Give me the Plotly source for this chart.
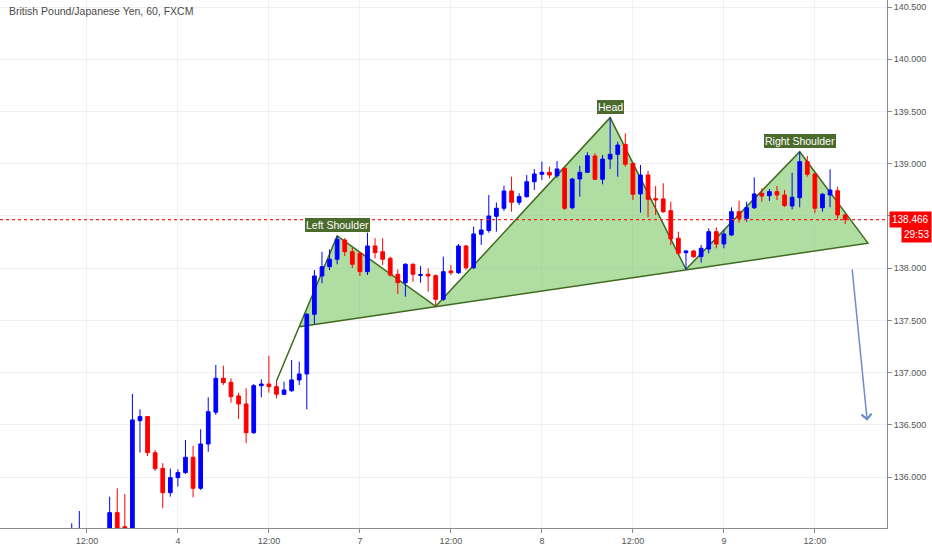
import plotly.graph_objects as go

# ---- hourly candles (index = hours from 12:00 on day 3, weekend skipped) ----
idx = [-2, -1, 3, 4, 5, 6, 7, 8, 9, 10, 11, 12, 13, 14, 15, 16, 17, 18, 19, 20,
       21, 22, 23, 24, 25, 26, 27, 28, 29, 30, 31, 32, 33, 34, 35, 36, 37, 38, 39, 40,
       41, 42, 43, 44, 45, 46, 47, 48, 49, 50, 51, 52, 53, 54, 55, 56, 57, 58, 59, 60,
       61, 62, 63, 64, 65, 66, 67, 68, 69, 70, 71, 72, 73, 74, 75, 76, 77, 78, 79, 80,
       81, 82, 83, 84, 85, 86, 87, 88, 89, 90, 91, 92, 93, 94, 95, 96, 97, 98, 99, 100]

opens = [135.400, 135.420, 135.450, 135.661, 135.527, 135.450, 136.541, 136.580, 136.235, 136.085,
         135.852, 135.996, 136.044, 136.191, 135.894, 136.318, 136.622, 136.947, 136.909, 136.778,
         136.701, 136.426, 136.876, 136.892, 136.867, 136.794, 136.828, 136.931, 136.988, 137.559,
         137.926, 138.015, 138.086, 138.270, 138.158, 138.143, 137.967, 138.213, 138.158, 138.095,
         137.942, 137.862, 138.038, 137.931, 137.942, 137.929, 137.703, 137.974, 137.957, 138.213,
         138.005, 138.325, 138.361, 138.497, 138.574, 138.739, 138.631, 138.685, 138.828, 138.899,
         138.918, 138.886, 138.956, 138.579, 138.854, 138.918, 139.074, 138.851, 139.045, 139.090,
         139.186, 139.004, 138.711, 138.892, 138.666, 138.663, 138.551, 138.287, 138.149, 138.165,
         138.111, 138.184, 138.350, 138.232, 138.318, 138.541, 138.478, 138.579, 138.717, 138.694,
         138.733, 138.701, 138.596, 138.675, 139.020, 138.902, 138.579, 138.701, 138.742, 138.510]

highs = [135.559, 135.677, 135.814, 135.894, 135.840, 136.797, 136.650, 136.585, 136.261, 136.134,
         136.082, 136.076, 136.356, 136.299, 136.459, 136.765, 137.074, 137.067, 136.947, 136.809,
         136.851, 136.892, 136.937, 137.163, 136.921, 136.914, 137.122, 137.106, 137.572, 137.983,
         138.158, 138.181, 138.309, 138.289, 138.194, 138.155, 138.340, 138.287, 138.287, 138.111,
         137.990, 138.047, 138.047, 138.022, 137.999, 137.942, 138.111, 138.031, 138.232, 138.222,
         138.398, 138.462, 138.701, 138.629, 138.790, 138.876, 138.717, 138.892, 138.950, 139.020,
         138.972, 139.026, 138.969, 138.864, 138.981, 139.110, 139.100, 139.084, 139.441, 139.211,
         139.291, 139.007, 138.988, 138.933, 138.787, 138.813, 138.637, 138.350, 138.174, 138.174,
         138.223, 138.382, 138.392, 138.366, 138.583, 138.646, 138.637, 138.870, 138.765, 138.758,
         138.787, 138.749, 138.914, 139.115, 139.074, 138.911, 138.720, 138.947, 138.780, 138.520]

lows = [135.380, 135.400, 135.420, 135.400, 135.400, 135.420, 136.235, 136.203, 136.060, 135.703,
        135.814, 135.910, 136.031, 135.808, 135.878, 136.244, 136.596, 136.883, 136.713, 136.557,
        136.325, 136.414, 136.765, 136.809, 136.755, 136.787, 136.816, 136.883, 136.650, 137.466,
        137.856, 137.983, 138.038, 138.117, 138.002, 137.926, 137.935, 138.095, 138.031, 137.919,
        137.754, 137.728, 137.871, 137.862, 137.776, 137.640, 137.687, 137.935, 137.945, 137.983,
        137.993, 138.223, 138.340, 138.350, 138.548, 138.541, 138.605, 138.675, 138.749, 138.845,
        138.861, 138.864, 138.557, 138.564, 138.685, 138.911, 138.845, 138.803, 138.950, 138.876,
        138.972, 138.653, 138.532, 138.488, 138.510, 138.529, 138.223, 138.127, 137.990, 138.098,
        138.053, 138.143, 138.191, 138.191, 138.309, 138.436, 138.445, 138.567, 138.637, 138.644,
        138.653, 138.586, 138.564, 138.583, 138.876, 138.526, 138.541, 138.583, 138.468, 138.423]

closes = [135.500, 135.500, 135.661, 135.450, 135.450, 136.548, 136.580, 136.235, 136.082, 135.852,
          135.996, 136.044, 136.191, 135.894, 136.318, 136.627, 136.947, 136.905, 136.771, 136.701,
          136.426, 136.876, 136.892, 136.867, 136.794, 136.835, 136.931, 136.988, 137.559, 137.926,
          138.015, 138.086, 138.277, 138.158, 138.038, 137.967, 138.213, 138.149, 138.086, 137.935,
          137.862, 138.038, 137.942, 137.940, 137.926, 137.703, 137.967, 137.957, 138.213, 138.005,
          138.328, 138.366, 138.500, 138.574, 138.739, 138.631, 138.685, 138.828, 138.902, 138.918,
          138.892, 138.950, 138.574, 138.854, 138.918, 139.077, 138.851, 139.045, 139.090, 139.179,
          138.995, 138.708, 138.892, 138.660, 138.653, 138.541, 138.280, 138.143, 138.165, 138.111,
          138.191, 138.350, 138.232, 138.328, 138.541, 138.478, 138.579, 138.711, 138.691, 138.733,
          138.701, 138.599, 138.679, 139.020, 138.899, 138.574, 138.708, 138.749, 138.510, 138.466]

tick_idx = [0, 12, 24, 36, 48, 60, 72, 84, 96]
tick_text = ["12:00", "4", "12:00", "7", "12:00", "8", "12:00", "9", "12:00"]

price_ticks = [136.0, 136.5, 137.0, 137.5, 138.0, 138.5, 139.0, 139.5, 140.0, 140.5]
price_tick_text = ["136.000", "136.500", "137.000", "137.500", "138.000", "",
                   "139.000", "139.500", "140.000", "140.500"]

# ---- head & shoulders drawing (index, price) ----
pattern_x = [25, 33, 46, 69, 79, 94, 103]
pattern_y = [136.921, 138.309, 137.635, 139.441, 137.990, 139.115, 138.240]
neck_start = (28.0, 137.441)
label_points = [(33, 138.309, "Left Shoulder"), (69, 139.441, "Head"), (94, 139.115, "Right Shoulder")]
arrow_from = (100.9, 138.002)
arrow_to = (102.9, 136.541)
last_price = 138.466
countdown = "29:53"
title = "British Pound/Japanese Yen, 60, FXCM"

FILL = "rgba(128,200,105,0.62)"
EDGE = "#3e6a1f"
LABEL_BG = "#4b6b2c"


def svg_path(xs, ys, close=False):
    pts = " L ".join(f"{a},{b}" for a, b in zip(xs, ys))
    return "M " + pts + (" Z" if close else "")


fig = go.Figure()

poly_x = [neck_start[0]] + pattern_x[1:]
poly_y = [neck_start[1]] + pattern_y[1:]
fig.add_shape(type="path", xref="x", yref="y", layer="between",
              path=svg_path(poly_x, poly_y, close=True),
              fillcolor=FILL, line=dict(width=0))
fig.add_shape(type="path", xref="x", yref="y", layer="between",
              path=svg_path(pattern_x + [neck_start[0]], pattern_y + [neck_start[1]]),
              line=dict(color=EDGE, width=1.5))

fig.add_trace(go.Candlestick(
    x=idx, open=opens, high=highs, low=lows, close=closes,
    increasing=dict(line=dict(color="#0000ff", width=1), fillcolor="#0000ff"),
    decreasing=dict(line=dict(color="#ff0000", width=1), fillcolor="#ff0000"),
    whiskerwidth=0, showlegend=False))

for (lx, ly, lt) in label_points:
    fig.add_annotation(x=lx, y=ly, text=lt, showarrow=False, yanchor="bottom", yshift=4,
                       bgcolor=LABEL_BG, bordercolor=LABEL_BG, borderwidth=0, borderpad=1,
                       font=dict(family="Liberation Sans", size=10.5, color="white"))

fig.add_annotation(x=arrow_to[0], y=arrow_to[1], ax=arrow_from[0], ay=arrow_from[1],
                   xref="x", yref="y", axref="x", ayref="y", text="", showarrow=True,
                   arrowhead=4, arrowsize=1.3, arrowwidth=1.5, arrowcolor="#6f8bcb")

# last price line and labels
fig.add_shape(type="line", xref="paper", x0=0, x1=1, yref="y", y0=last_price, y1=last_price,
              line=dict(color="#ff2020", width=1.2, dash="dot"))
fig.add_annotation(xref="paper", x=1.0507, xanchor="right", yref="y", y=last_price,
                   yanchor="middle", text=f"{last_price:.3f}", showarrow=False,
                   bgcolor="#ff0000", borderpad=2,
                   font=dict(family="Liberation Sans", size=10, color="white"))
fig.add_annotation(xref="paper", x=1.0507, xanchor="right", yref="y", y=last_price,
                   yanchor="middle", yshift=-15, text=countdown, showarrow=False,
                   bgcolor="#ff0000", borderpad=2,
                   font=dict(family="Liberation Sans", size=10, color="white"))

fig.add_annotation(xref="paper", yref="paper", x=0.008, y=0.994, xanchor="left", yanchor="top",
                   text=title, showarrow=False,
                   font=dict(family="Liberation Sans", size=10.5, color="#4a4a4a"))

fig.update_layout(
    width=932, height=550,
    margin=dict(l=0, r=45, t=0, b=22),
    paper_bgcolor="white", plot_bgcolor="white",
    showlegend=False,
    xaxis=dict(range=[-11.46, 105.51], rangeslider=dict(visible=False),
               tickmode="array", tickvals=tick_idx, ticktext=tick_text,
               showgrid=True, gridcolor="#eef0f4", zeroline=False,
               showline=True, linecolor="#8a8a8a", linewidth=1,
               ticks="outside", ticklen=4, tickcolor="#8a8a8a",
               tickfont=dict(family="Liberation Sans", size=9, color="#555555")),
    yaxis=dict(range=[135.514, 140.567], side="right",
               tickmode="array", tickvals=price_ticks, ticktext=price_tick_text,
               showgrid=True, gridcolor="#eef0f4", zeroline=False,
               showline=True, linecolor="#8a8a8a", linewidth=1,
               ticks="outside", ticklen=4, tickcolor="#8a8a8a",
               tickfont=dict(family="Liberation Sans", size=9, color="#555555")),
)

fig.write_html("out.html", config={"displayModeBar": False},
               post_script="document.body.style.margin='0px';")
